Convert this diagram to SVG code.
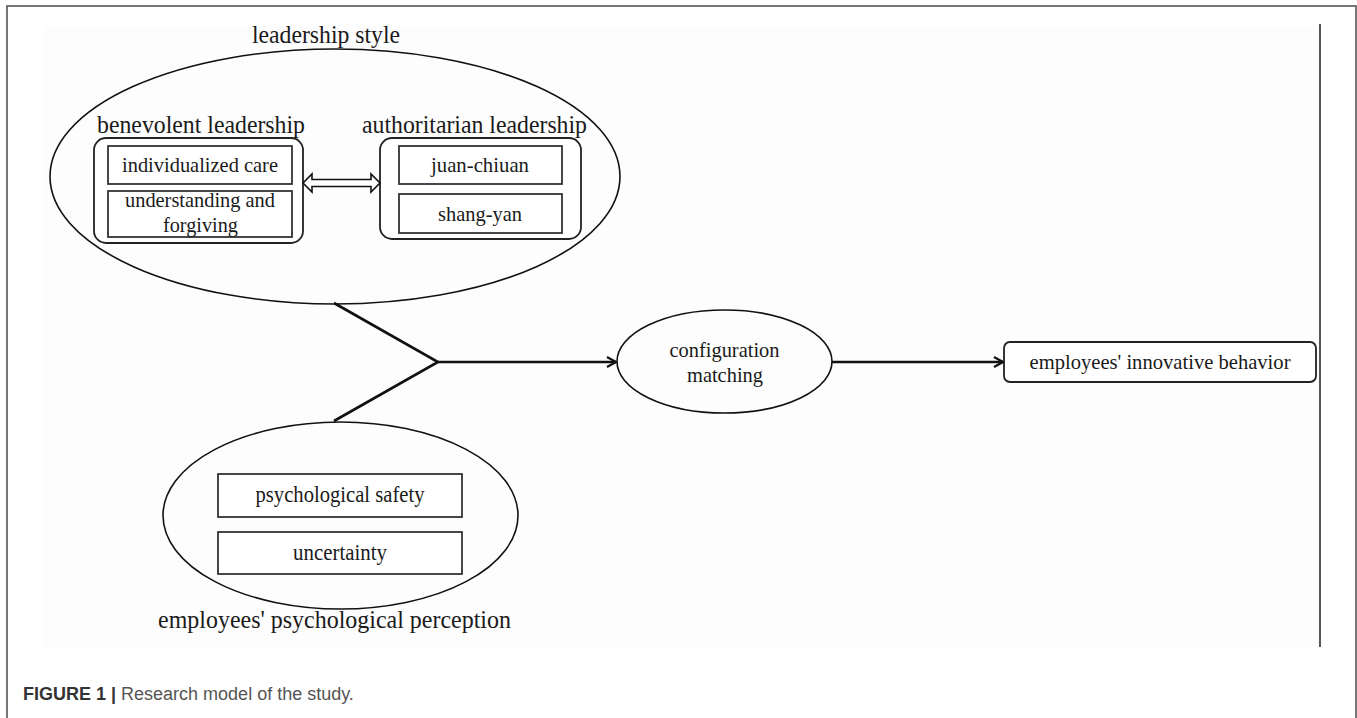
<svg xmlns="http://www.w3.org/2000/svg" width="1357" height="718" viewBox="0 0 1357 718">
<defs>
<style>
.t{font-family:"Liberation Serif","Times New Roman",serif;fill:#1a1a1a;text-anchor:middle}
.ell{fill:none;stroke:#111;stroke-width:1.6}
.box{fill:#fff;stroke:#222;stroke-width:1.8}
.inner{fill:#fff;stroke:#333;stroke-width:1.8}
.conn{fill:none;stroke:#111;stroke-width:2.6}
.cap{font-family:"Liberation Sans",Arial,sans-serif;font-size:18px}
</style>
<marker id="chev" viewBox="0 0 12 12" refX="11" refY="6" markerWidth="12" markerHeight="12" markerUnits="userSpaceOnUse" orient="auto">
<path d="M2,1 L11,6 L2,11" fill="none" stroke="#111" stroke-width="2.2"/>
</marker>
</defs>
<rect x="0" y="0" width="1357" height="718" fill="#fff"/>
<rect x="7" y="6" width="1349" height="730" fill="none" stroke="#555" stroke-width="1.6"/>
<rect x="43" y="26" width="1277" height="621" fill="#fdfdfd"/>
<line x1="1320" y1="24" x2="1320" y2="647" stroke="#555" stroke-width="2"/>

<g id="leadership-style">
<ellipse class="ell" cx="335" cy="176.5" rx="285" ry="127.5"/>
<text class="t" x="326" y="43" font-size="26" textLength="148" lengthAdjust="spacingAndGlyphs">leadership style</text>
</g>
<g id="benevolent-leadership">
<text class="t" x="201" y="133" font-size="26" textLength="208" lengthAdjust="spacingAndGlyphs">benevolent leadership</text>
<rect class="box" x="94" y="138" width="209" height="105" rx="12"/>
</g>
<g id="individualized-care">
<rect class="inner" x="108" y="146" width="184" height="38"/>
<text class="t" x="200" y="172" font-size="22" textLength="156" lengthAdjust="spacingAndGlyphs">individualized care</text>
</g>
<g id="understanding-forgiving">
<rect class="inner" x="108" y="191" width="184" height="46"/>
<text class="t" x="200" y="207" font-size="22" textLength="150" lengthAdjust="spacingAndGlyphs">understanding and</text>
<text class="t" x="200.5" y="232" font-size="22" textLength="75" lengthAdjust="spacingAndGlyphs">forgiving</text>
</g>
<g id="authoritarian-leadership">
<text class="t" x="474.5" y="133" font-size="26" textLength="225" lengthAdjust="spacingAndGlyphs">authoritarian leadership</text>
<rect class="box" x="380" y="138" width="201" height="101" rx="12"/>
</g>
<g id="juan-chiuan">
<rect class="inner" x="399" y="146" width="163" height="38"/>
<text class="t" x="480" y="172" font-size="22" textLength="98" lengthAdjust="spacingAndGlyphs">juan-chiuan</text>
</g>
<g id="shang-yan">
<rect class="inner" x="399" y="194" width="163" height="39"/>
<text class="t" x="480" y="221" font-size="22" textLength="84" lengthAdjust="spacingAndGlyphs">shang-yan</text>
</g>

<g id="psychological-perception">
<ellipse class="ell" cx="340.5" cy="515.5" rx="177.5" ry="93.5"/>
<text class="t" x="334.5" y="628" font-size="26" textLength="353" lengthAdjust="spacingAndGlyphs">employees' psychological perception</text>
</g>
<g id="psychological-safety">
<rect class="inner" x="218" y="474" width="244" height="43"/>
<text class="t" x="340" y="502" font-size="22.5" textLength="169" lengthAdjust="spacingAndGlyphs">psychological safety</text>
</g>
<g id="uncertainty">
<rect class="inner" x="218" y="532" width="244" height="42"/>
<text class="t" x="340" y="560" font-size="22.5" textLength="94" lengthAdjust="spacingAndGlyphs">uncertainty</text>
</g>

<g id="configuration-matching">
<ellipse class="ell" cx="724.5" cy="361.5" rx="107.5" ry="51.5"/>
<text class="t" x="724.5" y="357" font-size="22" textLength="110" lengthAdjust="spacingAndGlyphs">configuration</text>
<text class="t" x="725" y="382" font-size="22" textLength="76" lengthAdjust="spacingAndGlyphs">matching</text>
</g>
<g id="innovative-behavior">
<rect class="box" x="1004" y="342" width="312" height="40" rx="6"/>
<text class="t" x="1160" y="369" font-size="22" textLength="261" lengthAdjust="spacingAndGlyphs">employees' innovative behavior</text>
</g>

<g id="connectors">
<polygon points="303,183 312,174 312,179.5 371,179.5 371,174 380,183 371,192 371,186.5 312,186.5 312,192" fill="#fff" stroke="#111" stroke-width="1.6" stroke-linejoin="miter"/>
<polyline class="conn" points="334,303 438,362 334,421"/>
<line class="conn" x1="438" y1="362" x2="616" y2="362" marker-end="url(#chev)"/>
<line class="conn" x1="832" y1="362" x2="1003" y2="362" marker-end="url(#chev)"/>
</g>

<text class="cap" x="23" y="700"><tspan font-weight="bold" fill="#333">FIGURE 1 | </tspan><tspan fill="#555">Research model of the study.</tspan></text>
</svg>
